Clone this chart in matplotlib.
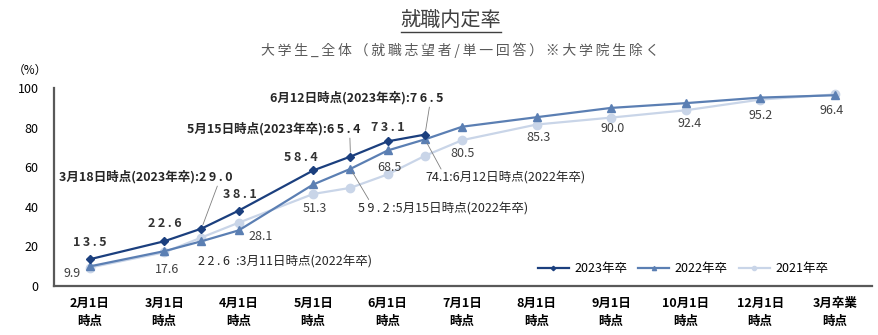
import numpy as np
import matplotlib
matplotlib.use("Agg")
import matplotlib.pyplot as plt
from matplotlib.lines import Line2D

plt.rcParams['font.family'] = ['Noto Sans CJK JP', 'DejaVu Sans']

# data
x_pos = [0, 1, 1.5, 2, 3, 3.5, 4, 4.5, 5, 6, 7, 8, 9, 10]
x_labels = ['2月1日\n時点', '3月1日\n時点', '4月1日\n時点', '5月1日\n時点', '6月1日\n時点',
            '7月1日\n時点', '8月1日\n時点', '9月1日\n時点', '10月1日\n時点', '12月1日\n時点',
            '3月卒業\n時点']
y2023 = [13.5, 22.6, 29.0, 38.1, 58.4, 65.4, 73.1, 76.5]
y2022 = [9.9, 17.6, 22.6, 28.1, 51.3, 59.2, 68.5, 74.1, 80.5, 85.3, 90.0, 92.4, 95.2, 96.4]
y2021 = [9.3, 17.0, 24.5, 32.0, 46.5, 49.6, 56.4, 65.8, 73.7, 81.6, 85.1, 88.8, 94.2, 96.8]

c23 = '#1B3F7E'
c22 = '#5B7FB3'
c21 = '#C9D5E8'

def spaced(s):
    return '\u2009'.join(s)

fig = plt.figure(figsize=(8.79, 3.35), dpi=100)
ax = fig.add_axes([0.0614, 0.1463, 0.9306, 0.5907])

ax.plot(x_pos, y2021, color=c21, lw=1.6, marker='o', ms=6, label='2021年卒', zorder=2)
ax.plot(x_pos, y2022, color=c22, lw=1.6, marker='^', ms=6, label='2022年卒', zorder=3)
ax.plot(x_pos[:len(y2023)], y2023, color=c23, lw=1.6, marker='D', ms=4.5, label='2023年卒', zorder=4)

ax.set_xlim(-0.48, 10.5)
ax.set_ylim(0, 100)
ax.set_yticks(range(0, 101, 20))
ax.set_xticks(range(len(x_labels)))
ax.set_xticklabels(x_labels, fontsize=9, fontweight='bold', linespacing=1.5)
ax.tick_params(axis='both', length=0, labelsize=9)
ax.tick_params(axis='x', pad=8)
ax.tick_params(axis='y', pad=11)
for s in ['top', 'right']:
    ax.spines[s].set_visible(False)
for s in ['left', 'bottom']:
    ax.spines[s].set_color('#595959')
    ax.spines[s].set_linewidth(1.6)

# value labels 2023
lab23 = [(0, 17), (1, 18), None, (1, 16), (-12, 13), None, (0, 14), None]
for x, y, off in zip(x_pos, y2023, lab23):
    if off is None:
        continue
    ax.annotate(spaced('%.1f' % y), (x, y), xytext=off, textcoords='offset pixels',
                ha='center', va='center', fontsize=9, fontweight='bold', color='#333333')

lead = dict(arrowstyle='-', color='#7F7F7F', lw=0.6, shrinkA=0, shrinkB=3)
notes23 = [(2, '3月18日時点(2023年卒):' + spaced('29.0'), (-56, 52), 0.92),
           (5, '5月15日時点(2023年卒):' + spaced('65.4'), (-77, 28), 0.94),
           (7, '6月12日時点(2023年卒):' + spaced('76.5'), (-68, 37), 0.92)]
for i, txt, off, rx in notes23:
    ax.annotate(txt, (x_pos[i], y2023[i]), xytext=off, textcoords='offset pixels',
                ha='center', va='center', fontsize=9, fontweight='bold', color='#262626',
                arrowprops=dict(lead, relpos=(rx, 0)))

# value labels 2022
lab22 = [(-18, -7), (3, -18), None, (22, -6), (2, -24), None, (2, -17), None,
         (0, -27), (2, -20), (1, -21), (4, -20), (0, -18), (-3, -15)]
for x, y, off in zip(x_pos, y2022, lab22):
    if off is None:
        continue
    ax.annotate('%.1f' % y, (x, y), xytext=off, textcoords='offset pixels',
                ha='center', va='center', fontsize=9, color='#404040')

ax.annotate(spaced('22.6') + '\u2002:3月11日時点(2022年卒)', (x_pos[2], y2022[2]), xytext=(-3, -21),
            textcoords='offset pixels', ha='left', va='center', fontsize=9, color='#262626')
notes22 = [(5, spaced('59.2') + '\u2009:5月15日時点(2022年卒)', (8, -40), 0.07),
           (7, '74.1:6月12日時点(2022年卒)', (0, -39), 0.11)]
for i, txt, off, rx in notes22:
    ax.annotate(txt, (x_pos[i], y2022[i]), xytext=off, textcoords='offset pixels',
                ha='left', va='center', fontsize=9, color='#262626',
                arrowprops=dict(lead, relpos=(rx, 1)))

h, l = ax.get_legend_handles_labels()
ax.legend(h[::-1], l[::-1], loc='center right', bbox_to_anchor=(0.96, 0.086), ncol=3,
          frameon=False, fontsize=9, handlelength=2.5, columnspacing=0.9, handletextpad=0.4,
          markerscale=0.5)

fig.text(0.034, 0.79, '（%）', fontsize=8.5, ha='center', va='center')
title = fig.text(0.513, 0.94, '就職内定率', fontsize=14.5, ha='center', va='center', color='#404040')
fig.text(0.523, 0.851, spaced('大学生_全体（就職志望者/単一回答）※大学院生除く'), fontsize=10,
         ha='center', va='center', color='#595959')

fig.canvas.draw()
bb = title.get_window_extent().transformed(fig.transFigure.inverted())
fig.add_artist(Line2D([bb.x0, bb.x1], [bb.y0 - 0.005, bb.y0 - 0.005], color='#404040', lw=1.0,
                      transform=fig.transFigure))

fig.savefig('out.png', dpi=100)
